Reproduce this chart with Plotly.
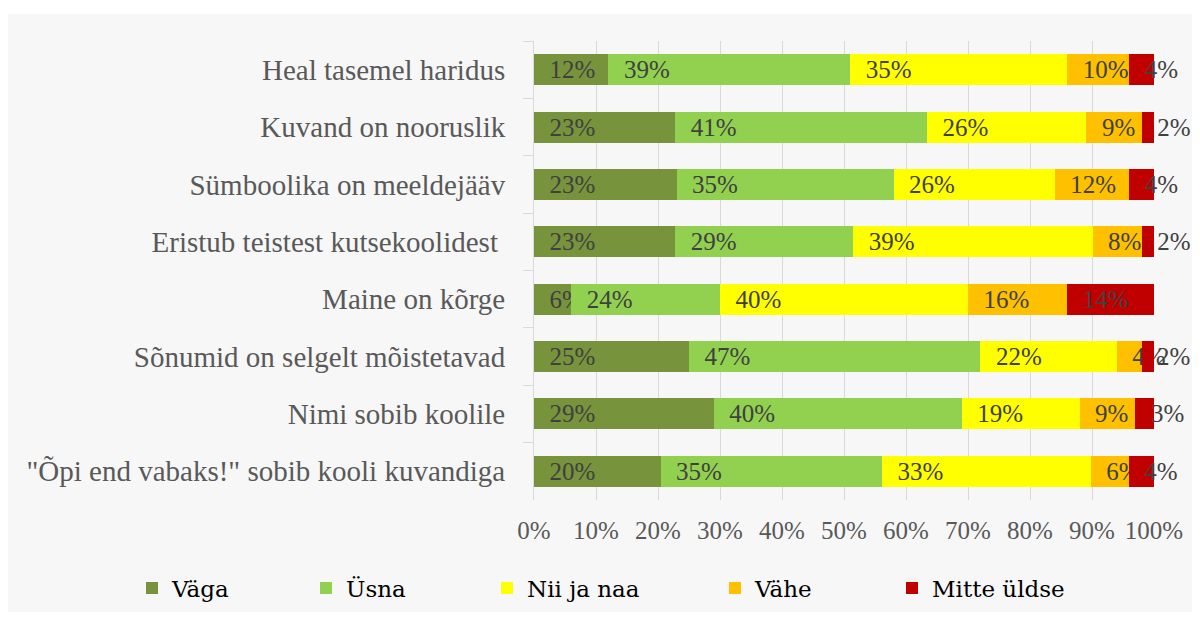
import plotly.graph_objects as go

categories = [
    "Heal tasemel haridus",
    "Kuvand on nooruslik",
    "Sümboolika on meeldejääv",
    "Eristub teistest kutsekoolidest ",
    "Maine on kõrge",
    "Sõnumid on selgelt mõistetavad",
    "Nimi sobib koolile",
    "\"Õpi end vabaks!\" sobib kooli kuvandiga",
]
vaga = [12, 23, 23, 23, 6, 25, 29, 20]
usna = [39, 41, 35, 29, 24, 47, 40, 35]
nii_ja_naa = [35, 26, 26, 39, 40, 22, 19, 33]
vahe = [10, 9, 12, 8, 16, 4, 9, 6]
mitte_uldse = [4, 2, 4, 2, 14, 2, 3, 4]
series_names = ["Väga", "Üsna", "Nii ja naa", "Vähe", "Mitte üldse"]
series_values = [vaga, usna, nii_ja_naa, vahe, mitte_uldse]
x_tick_values = [0, 10, 20, 30, 40, 50, 60, 70, 80, 90, 100]
x_tick_labels = ["0%", "10%", "20%", "30%", "40%", "50%", "60%", "70%", "80%", "90%", "100%"]

colors = ["#77933C", "#92D050", "#FFFF00", "#FFC000", "#C00000"]
legend_ids = ["legend", "legend2", "legend3", "legend4", "legend5"]

# page body has an 8px margin; work in figure coordinates
OFF = 8
W, H = 1200 - OFF, 617 - OFF
L = 534 - OFF
R = W - (1154 - OFF)
T = 41 - OFF
B = H - (500 - OFF)
PW = W - L - R
PH = H - T - B
legend_text_px = [172, 346, 527, 755, 932]

fig = go.Figure()
for name, vals, col, lid in zip(series_names, series_values, colors, legend_ids):
    fig.add_trace(go.Bar(
        y=categories, x=vals, name=name, orientation="h",
        marker=dict(color=col, line=dict(width=0)),
        text=["\u00a0\u00a0" + f"{v}%" for v in vals],
        textposition="inside", insidetextanchor="start", textangle=0,
        textfont=dict(family="Liberation Serif", size=25, color="#404040"),
        cliponaxis=False, legend=lid,
    ))

layout_legends = {}
for lid, tx in zip(legend_ids, legend_text_px):
    layout_legends[lid] = dict(
        x=(tx - OFF - 40 - L) / PW, xanchor="left",
        y=(T + PH - 580) / PH, yanchor="middle",
        orientation="h", bgcolor="rgba(0,0,0,0)",
        font=dict(family="DejaVu Serif", size=23, color="#000000"),
    )

fig.update_layout(
    width=W, height=H,
    margin=dict(l=L, r=R, t=T, b=B, pad=0, autoexpand=False),
    barmode="stack", barnorm="percent", bargap=0.46,
    paper_bgcolor="#ffffff", plot_bgcolor="rgba(0,0,0,0)",
    showlegend=True,
    uniformtext=dict(minsize=25, mode="show"),
    xaxis=dict(
        range=[0, 100], tickvals=x_tick_values, ticktext=x_tick_labels,
        showgrid=True, gridcolor="#d9d9d9", gridwidth=1, zeroline=False,
        showline=False, ticks="", automargin=False,
        tickfont=dict(family="Liberation Serif", size=25, color="#595959"),
        ticklabelstandoff=13,
    ),
    yaxis=dict(
        autorange="reversed", showgrid=False, showline=True, linecolor="#d9d9d9",
        ticks="outside", tickson="boundaries", ticklen=10, tickcolor="#d9d9d9",
        automargin=False,
        tickfont=dict(family="Liberation Serif", size=29, color="#595959"),
        ticklabelstandoff=22,
    ),
    shapes=[dict(
        type="rect", xref="paper", yref="paper", layer="below",
        x0=(0 - L) / PW, x1=(1195 - OFF - L) / PW,
        y0=(T + PH - (612 - OFF)) / PH, y1=(T + PH - (14 - OFF)) / PH,
        fillcolor="#f7f7f7", line=dict(width=0),
    )],
    **layout_legends,
)

fig.write_html("out.html")
